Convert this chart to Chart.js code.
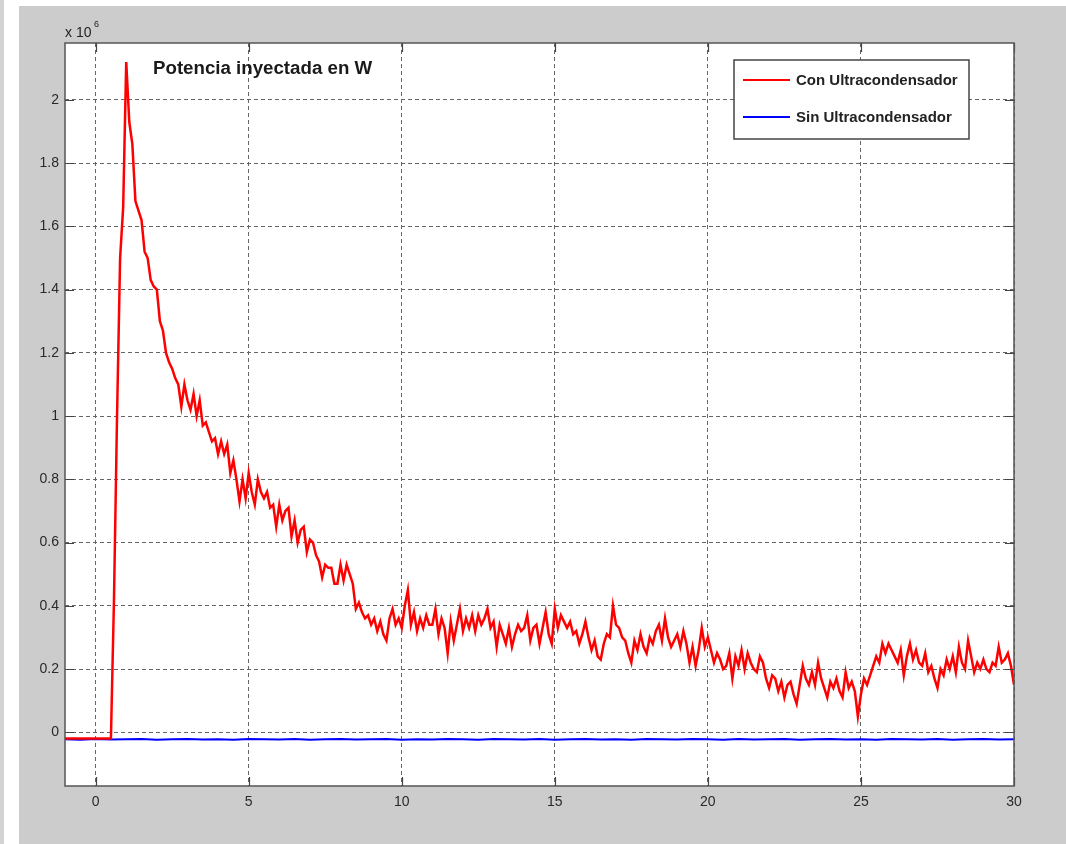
<!DOCTYPE html>
<html>
<head>
<meta charset="utf-8">
<script src="https://cdn.jsdelivr.net/npm/chart.js"></script>
<style>
  html, body { margin: 0; padding: 0; background: #ffffff; }
  canvas { display: block; }
</style>
</head>
<body>
<canvas id="potencia" width="1066" height="844"></canvas>
<script>
// axis limits and ticks (values in W x 10^6, time in s)
const xMin = -1, xMax = 30;
const yMin = -0.17, yMax = 2.18;
const xTicks = [0, 5, 10, 15, 20, 25, 30];
const yTicks = [0, 0.2, 0.4, 0.6, 0.8, 1, 1.2, 1.4, 1.6, 1.8, 2];
const yTickLabels = ['0', '0.2', '0.4', '0.6', '0.8', '1', '1.2', '1.4', '1.6', '1.8', '2'];

const seriesNames = ['Con Ultracondensador', 'Sin Ultracondensador'];

// "Con Ultracondensador": sampled every 0.1 s starting at t = 0.5
const redStart = 0.5, redStep = 0.1;
const redValues = [
  -0.02, 0.42, 1.00, 1.50, 1.66, 2.12, 1.93, 1.86, 1.68, 1.65,
  1.62, 1.52, 1.50, 1.43, 1.41, 1.40, 1.30, 1.27, 1.20, 1.17,
  1.15, 1.12, 1.10, 1.03, 1.10, 1.05, 1.02, 1.07, 1.00, 1.05,
  0.97, 0.98, 0.95, 0.92, 0.93, 0.88, 0.92, 0.88, 0.91, 0.82,
  0.86, 0.80, 0.73, 0.80, 0.74, 0.82, 0.76, 0.72, 0.80, 0.76,
  0.74, 0.76, 0.71, 0.72, 0.65, 0.72, 0.67, 0.70, 0.71, 0.62,
  0.67, 0.60, 0.64, 0.65, 0.57, 0.61, 0.60, 0.56, 0.54, 0.49,
  0.53, 0.52, 0.52, 0.47, 0.47, 0.53, 0.48, 0.53, 0.50, 0.47,
  0.39, 0.41, 0.38, 0.36, 0.37, 0.34, 0.36, 0.32, 0.35, 0.31,
  0.29, 0.36, 0.39, 0.34, 0.36, 0.33, 0.40, 0.45, 0.34, 0.38,
  0.32, 0.36, 0.33, 0.37, 0.34, 0.34, 0.39, 0.31, 0.36, 0.33,
  0.25, 0.35, 0.29, 0.34, 0.39, 0.32, 0.36, 0.33, 0.37, 0.32,
  0.37, 0.34, 0.36, 0.39, 0.33, 0.35, 0.27, 0.34, 0.31, 0.28,
  0.33, 0.27, 0.31, 0.34, 0.32, 0.33, 0.37, 0.29, 0.33, 0.34,
  0.28, 0.33, 0.38, 0.31, 0.28, 0.39, 0.33, 0.37, 0.35, 0.33,
  0.35, 0.31, 0.32, 0.28, 0.31, 0.35, 0.30, 0.26, 0.29, 0.24,
  0.23, 0.28, 0.31, 0.30, 0.40, 0.34, 0.33, 0.30, 0.29, 0.25,
  0.22, 0.29, 0.26, 0.31, 0.27, 0.25, 0.30, 0.28, 0.32, 0.34,
  0.29, 0.36, 0.30, 0.27, 0.29, 0.31, 0.27, 0.32, 0.28, 0.22,
  0.27, 0.21, 0.26, 0.33, 0.27, 0.30, 0.26, 0.22, 0.25, 0.23,
  0.20, 0.21, 0.25, 0.17, 0.24, 0.21, 0.26, 0.20, 0.25, 0.22,
  0.20, 0.19, 0.24, 0.22, 0.17, 0.14, 0.18, 0.17, 0.13, 0.16,
  0.11, 0.15, 0.16, 0.12, 0.09, 0.15, 0.21, 0.17, 0.15, 0.19,
  0.15, 0.22, 0.17, 0.14, 0.11, 0.16, 0.14, 0.17, 0.13, 0.11,
  0.19, 0.14, 0.16, 0.13, 0.05, 0.12, 0.17, 0.15, 0.18, 0.21,
  0.24, 0.22, 0.28, 0.25, 0.28, 0.26, 0.24, 0.22, 0.26, 0.18,
  0.24, 0.28, 0.23, 0.26, 0.22, 0.21, 0.25, 0.19, 0.21, 0.17,
  0.14, 0.20, 0.18, 0.23, 0.20, 0.24, 0.19, 0.27, 0.22, 0.20,
  0.29, 0.24, 0.19, 0.22, 0.20, 0.23, 0.20, 0.19, 0.22, 0.21,
  0.27, 0.22, 0.23, 0.25, 0.21, 0.15
];

// "Sin Ultracondensador": sampled every 0.5 s starting at t = -1
const blueStart = -1, blueStep = 0.5;
const blueValues = [
  -0.022, -0.024, -0.021, -0.023, -0.022, -0.021, -0.024, -0.022, -0.021, -0.023,
  -0.022, -0.024, -0.021, -0.022, -0.023, -0.021, -0.024, -0.022, -0.021, -0.023,
  -0.022, -0.021, -0.024, -0.022, -0.023, -0.021, -0.022, -0.024, -0.021, -0.022,
  -0.023, -0.021, -0.024, -0.022, -0.021, -0.023, -0.022, -0.024, -0.021, -0.022,
  -0.023, -0.021, -0.022, -0.024, -0.021, -0.023, -0.022, -0.021, -0.024, -0.022,
  -0.021, -0.023, -0.022, -0.024, -0.021, -0.022, -0.023, -0.021, -0.024, -0.022,
  -0.021, -0.023, -0.022
];

const FONT = "'Liberation Sans', Arial, Helvetica, sans-serif";

const redData = [{ x: xMin, y: redValues[0] }];
redValues.forEach((v, i) => redData.push({ x: +(redStart + i * redStep).toFixed(2), y: v }));
const blueData = blueValues.map((v, i) => ({ x: blueStart + i * blueStep, y: v }));

// MATLAB-like figure decorations: gray frame, box, inward ticks, legend, title
const matlabFrame = {
  id: 'matlabFrame',
  beforeDraw(chart) {
    const { ctx, chartArea: a } = chart;
    ctx.save();
    ctx.fillStyle = '#ffffff';
    ctx.fillRect(0, 0, chart.width, chart.height);
    ctx.fillStyle = '#d3d3d3';
    ctx.fillRect(0, 0, 4, chart.height);
    ctx.fillStyle = '#cccccc';
    ctx.fillRect(19, 6, chart.width - 19, chart.height - 6);
    ctx.fillStyle = '#ffffff';
    ctx.fillRect(a.left, a.top, a.right - a.left, a.bottom - a.top);
    ctx.restore();
  },
  afterDraw(chart) {
    const { ctx, chartArea: a, scales } = chart;
    ctx.save();
    // inward ticks on all four sides
    ctx.strokeStyle = '#444444';
    ctx.lineWidth = 1.2;
    const tl = 9;
    ctx.beginPath();
    xTicks.forEach(v => {
      const px = Math.round(scales.x.getPixelForValue(v)) + 0.5;
      ctx.moveTo(px, a.bottom); ctx.lineTo(px, a.bottom - tl);
      ctx.moveTo(px, a.top); ctx.lineTo(px, a.top + tl);
    });
    yTicks.forEach(v => {
      const py = Math.round(scales.y.getPixelForValue(v)) + 0.5;
      ctx.moveTo(a.left, py); ctx.lineTo(a.left + tl, py);
      ctx.moveTo(a.right, py); ctx.lineTo(a.right - tl, py);
    });
    ctx.stroke();
    // axes box
    ctx.strokeStyle = '#555555';
    ctx.lineWidth = 1.5;
    ctx.strokeRect(a.left, a.top, a.right - a.left, a.bottom - a.top);

    // exponent label
    ctx.fillStyle = '#222222';
    ctx.textBaseline = 'middle';
    ctx.textAlign = 'left';
    ctx.font = '14px ' + FONT;
    ctx.fillText('x 10', a.left, 33);
    ctx.font = '9px ' + FONT;
    ctx.fillText('6', a.left + 29, 25);

    // title inside the axes
    ctx.font = 'bold 18.7px ' + FONT;
    ctx.fillStyle = '#1a1a1a';
    ctx.fillText('Potencia inyectada en W', 153, 69);

    // legend
    const lx = 734, ly = 60, lw = 235, lh = 79;
    ctx.fillStyle = '#ffffff';
    ctx.fillRect(lx, ly, lw, lh);
    ctx.strokeStyle = '#444444';
    ctx.lineWidth = 1.5;
    ctx.strokeRect(lx, ly, lw, lh);
    const rows = [80, 117];
    chart.data.datasets.forEach((ds, i) => {
      ctx.strokeStyle = ds.borderColor;
      ctx.lineWidth = 2;
      ctx.beginPath();
      ctx.moveTo(743, rows[i]);
      ctx.lineTo(790, rows[i]);
      ctx.stroke();
      ctx.fillStyle = '#222222';
      ctx.font = 'bold 15px ' + FONT;
      ctx.fillText(ds.label, 796, rows[i] + 1);
    });
    ctx.restore();
  }
};

const gridDash = [4, 3];

new Chart(document.getElementById('potencia'), {
  type: 'line',
  data: {
    datasets: [
      {
        label: seriesNames[0],
        data: redData,
        borderColor: '#ff0000',
        borderWidth: 2.5,
        pointRadius: 0,
        tension: 0
      },
      {
        label: seriesNames[1],
        data: blueData,
        borderColor: '#0000ff',
        borderWidth: 2,
        pointRadius: 0,
        tension: 0
      }
    ]
  },
  options: {
    responsive: false,
    animation: false,
    events: [],
    layout: { padding: { top: 43, right: 52, left: 0, bottom: 0 } },
    plugins: {
      legend: { display: false },
      tooltip: { enabled: false },
      title: { display: false }
    },
    scales: {
      x: {
        type: 'linear',
        min: xMin,
        max: xMax,
        afterBuildTicks: (scale) => { scale.ticks = xTicks.map(v => ({ value: v })); },
        afterFit: (scale) => { scale.height = 58; },
        grid: { color: '#666666', lineWidth: 1, drawTicks: false },
        border: { display: false, dash: gridDash },
        ticks: {
          padding: 8,
          color: '#2a2a2a',
          font: { family: FONT, size: 14 },
          callback: (v) => String(v)
        }
      },
      y: {
        type: 'linear',
        min: yMin,
        max: yMax,
        afterBuildTicks: (scale) => { scale.ticks = yTicks.map(v => ({ value: v })); },
        afterFit: (scale) => { scale.width = 65; },
        grid: { color: '#666666', lineWidth: 1, drawTicks: false },
        border: { display: false, dash: gridDash },
        ticks: {
          padding: 6,
          color: '#2a2a2a',
          font: { family: FONT, size: 14 },
          callback: (v) => yTickLabels[yTicks.indexOf(v)] ?? ''
        }
      }
    }
  },
  plugins: [matlabFrame]
});
</script>
</body>
</html>
